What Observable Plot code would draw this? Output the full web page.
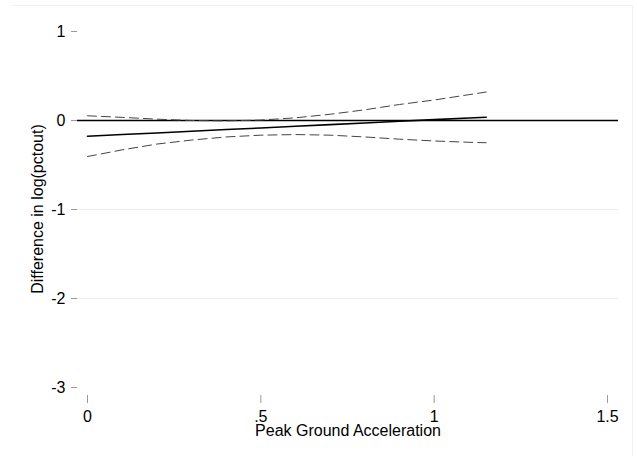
<!DOCTYPE html>
<html>
<head>
<meta charset="utf-8">
<script src="https://cdn.jsdelivr.net/npm/d3@7"></script>
<script src="https://cdn.jsdelivr.net/npm/@observablehq/plot@0.6"></script>
<style>
  html, body { margin: 0; padding: 0; background: #fff; }
  #wrap { position: relative; width: 637px; height: 456px; overflow: hidden; }
  #border { position: absolute; left: 12px; top: 5px; width: 620px; height: 470px;
            border-top: 1px solid #eef1f2; border-right: 1px solid #eef1f2; }
  #chart { position: absolute; left: 0; top: 0; }
</style>
</head>
<body>
<div id="wrap"><div id="border"></div><div id="chart"></div></div>
<script>
// Peak ground acceleration sample points
const pga = [0, 0.1, 0.2, 0.3, 0.4, 0.5, 0.6, 0.7, 0.8, 0.9, 1.0, 1.1, 1.15];
// Fitted difference in log(pctout)
const fit = [-0.177, -0.158, -0.140, -0.121, -0.102, -0.084, -0.065, -0.046, -0.028, -0.009, 0.010, 0.028, 0.037];
// Upper 95% confidence bound
const upper = [0.053, 0.035, 0.015, 0.0, -0.005, 0.005, 0.03, 0.07, 0.12, 0.18, 0.23, 0.29, 0.32];
// Lower 95% confidence bound
const lower = [-0.405, -0.33, -0.265, -0.22, -0.185, -0.165, -0.158, -0.165, -0.185, -0.21, -0.23, -0.245, -0.25];
// Axis ticks
const xTicks = [0, 0.5, 1, 1.5];
const xTickLabels = ["0", ".5", "1", "1.5"];
const yTicks = [1, 0, -1, -2, -3];
const gridY = [-1, -2];
const refY = [0];

const rows = pga.map((x, i) => ({x, fit: fit[i], upper: upper[i], lower: lower[i]}));

const chart = Plot.plot({
  width: 637,
  height: 456,
  marginLeft: 77,
  marginRight: 19,
  marginTop: 22,
  marginBottom: 61,
  style: { fontFamily: "'Liberation Sans', Arial, sans-serif", fontSize: "16px", color: "#000", background: "transparent" },
  x: { domain: [-0.0288, 1.5316] },
  y: { domain: [-3.09, 1.101] },
  marks: [
    Plot.ruleY(gridY, { stroke: "#e6eef0", strokeWidth: 1 }),
    Plot.ruleY(refY, { stroke: "#000", strokeWidth: 1.6 }),
    Plot.line(rows, { x: "x", y: "upper", stroke: "#444", strokeWidth: 1, strokeDasharray: "9,5" }),
    Plot.line(rows, { x: "x", y: "lower", stroke: "#444", strokeWidth: 1, strokeDasharray: "9,5" }),
    Plot.line(rows, { x: "x", y: "fit", stroke: "#000", strokeWidth: 1.6 }),
    Plot.axisY({ ticks: yTicks, tickSize: 6, tickPadding: 6, stroke: "#999", fill: "#000",
                 tickFormat: d => String(d), label: null }),
    Plot.axisX({ ticks: xTicks, tickSize: 8, tickPadding: 7, stroke: "#999", fill: "#000",
                 tickFormat: d => xTickLabels[xTicks.indexOf(d)], label: null }),
    Plot.text(["Peak Ground Acceleration"], { frameAnchor: "bottom", dy: 40, fill: "#000", fontSize: 16 }),
    Plot.text(["Difference in log(pctout)"], { frameAnchor: "left", textAnchor: "middle", dx: -40, rotate: -90, fill: "#000", fontSize: 16 })
  ]
});
document.getElementById("chart").appendChild(chart);
</script>
</body>
</html>
